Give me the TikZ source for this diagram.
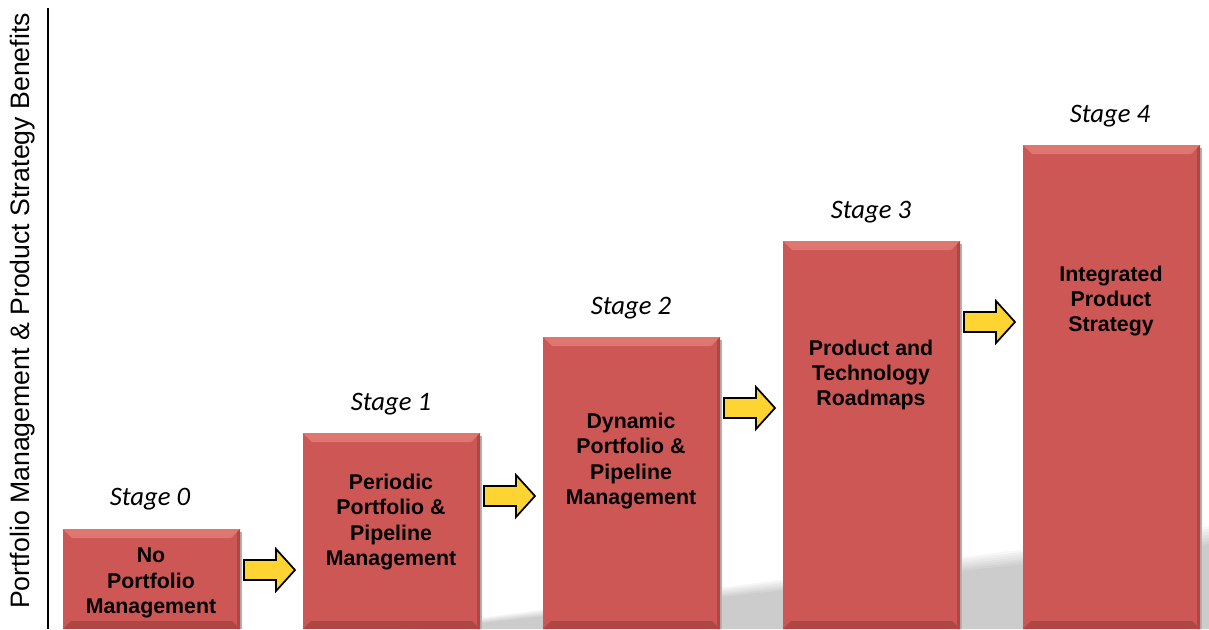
\documentclass[tikz,border=0pt]{standalone}
\usepackage{fontspec}
\setmainfont{Liberation Sans}
\newfontfamily\stagefont{Carlito}
\definecolor{barred}{RGB}{205,87,85}
\definecolor{barlight}{RGB}{224,118,113}
\definecolor{bardark}{RGB}{176,70,68}
\definecolor{arrowyellow}{RGB}{253,212,50}

\begin{document}
\begin{tikzpicture}[x=0.75pt,y=-0.75pt,
    bartext/.style={font=\fontsize{16}{19}\selectfont\bfseries, align=center},
    stagetext/.style={font=\stagefont\itshape\fontsize{20}{24}\selectfont},
    yarrow/.style={fill=arrowyellow, draw=black, line width=1.3pt, line join=miter}]
      \useasboundingbox (0,0) rectangle (1209,629);
      % floor shadow
      \foreach \d in {0,3,...,18}
        \fill[black,opacity=0.03] (390+\d*2,629) -- (1209,526+\d) -- (1209,629) -- cycle;
      % axis
      \draw[line width=1.5pt] (48,8) -- (48,629);
      \node[rotate=90, font=\fontsize{20}{24}\selectfont] (axislabel) at (23,311)
        {Portfolio Management \& Product Strategy Benefits};
      % bars
      \foreach \i/\t in {0/529,1/433,2/337,3/241,4/145} {
        \pgfmathsetmacro\l{63+240*\i}
        \pgfmathsetmacro\r{\l+177}
        \fill[gray!60] (\r,\t+3) rectangle (\r+2,629);
        \fill[barred] (\l,\t) rectangle (\r,629);
        \fill[barlight] (\l,\t) -- (\r,\t) -- (\r-9,\t+9) -- (\l+9,\t+9) -- cycle;
        \fill[bardark] (\r,\t) -- (\r-3,\t+3) -- (\r-3,629) -- (\r,629) -- cycle;
        \fill[bardark] (\l,629) -- (\l+8,621) -- (\r-8,621) -- (\r,629) -- cycle;
      }
      % stage labels
      \node[stagetext] (s0) at (150,499) {Stage 0};
      \node[stagetext] (s1) at (391,404) {Stage 1};
      \node[stagetext] (s2) at (631,308) {Stage 2};
      \node[stagetext] (s3) at (871,212) {Stage 3};
      \node[stagetext] (s4) at (1110,116) {Stage 4};
      % bar texts
      \node[bartext] (t0) at (151,583) {No\\Portfolio\\Management};
      \node[bartext] (t1) at (391,522) {Periodic\\Portfolio \&\\Pipeline\\Management};
      \node[bartext] (t2) at (631,461) {Dynamic\\Portfolio \&\\Pipeline\\Management};
      \node[bartext] (t3) at (871,375) {Product and\\Technology\\Roadmaps};
      \node[bartext] (t4) at (1111,301) {Integrated\\Product\\Strategy};
      % arrows
      \foreach \x/\y [count=\n] in {244/570,484/496,724/408,964/322} {
        \coordinate (a\n) at (\x,\y);
        \draw[yarrow] (a\n) ++(0,-10) -- ++(32,0) -- ++(0,-11) -- ++(19,21)
          -- ++(-19,21) -- ++(0,-11) -- ++(-32,0) -- cycle;
      }
    \end{tikzpicture}
\end{document}
